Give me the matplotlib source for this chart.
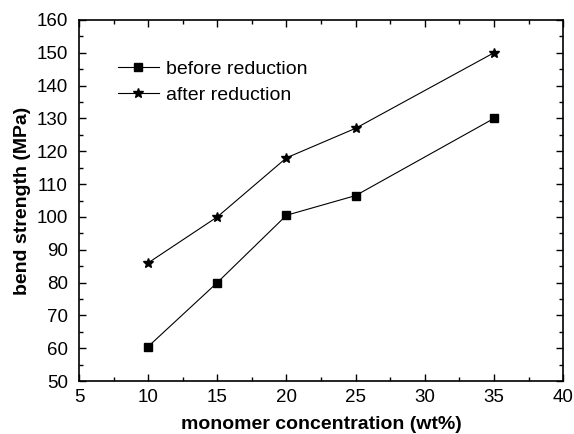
import numpy as np
import matplotlib
matplotlib.use('Agg')
import matplotlib.pyplot as plt
from matplotlib.ticker import MultipleLocator

plt.rcParams['font.family'] = ['Liberation Sans', 'DejaVu Sans']

conc = [10, 15, 20, 25, 35]
before = [60.5, 80, 100.5, 106.5, 130]
after = [86, 100, 118, 127, 150]

fig = plt.figure(figsize=(5.74, 4.34), dpi=100)
ax = fig.add_axes([0.1376, 0.122, 0.8434, 0.832])

ax.plot(conc, before, '-', color='black', lw=0.8, marker='s', ms=5.5,
        label='before reduction')
ax.plot(conc, after, '-', color='black', lw=0.8, marker='*', ms=7,
        label='after reduction')

ax.set_xlim(5, 40)
ax.set_ylim(50, 160)
ax.xaxis.set_major_locator(MultipleLocator(5))
ax.xaxis.set_minor_locator(MultipleLocator(2.5))
ax.yaxis.set_major_locator(MultipleLocator(10))
ax.yaxis.set_minor_locator(MultipleLocator(5))
ax.tick_params(which='both', direction='in', top=True, right=True,
               labeltop=False, labelright=False, width=1)
ax.tick_params(which='major', length=5, labelsize=13.5)
ax.tick_params(axis='y', which='major', pad=8)
ax.tick_params(axis='x', which='major', pad=6)
ax.tick_params(which='minor', length=3)
for s in ax.spines.values():
    s.set_linewidth(1.2)

ax.set_xlabel('monomer concentration (wt%)', fontsize=14, fontweight='bold', labelpad=7)
ax.set_ylabel('bend strength (MPa)', fontsize=14, fontweight='bold', labelpad=4)

ax.legend(loc='upper left', bbox_to_anchor=(0.064, 0.91), frameon=False,
          fontsize=14, handlelength=2.1, handletextpad=0.4, labelspacing=0.45,
          borderaxespad=0)

fig.savefig('out.png', dpi=100)
